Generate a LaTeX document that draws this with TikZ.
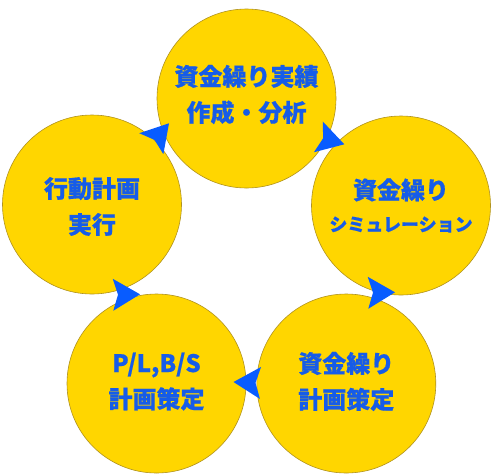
\documentclass[tikz,border=0pt]{standalone}
\usepackage{fontspec}
\newfontfamily\jpfont{Noto Sans CJK JP}[BoldFeatures={FakeBold=0.6}]
\definecolor{disk}{RGB}{255,214,0}
\definecolor{rim}{RGB}{176,146,30}
\definecolor{ink}{RGB}{22,92,232}
\definecolor{tipblue}{RGB}{8,92,255}

\begin{document}
\begin{tikzpicture}[%
    x=1pt, y=-1pt,              % pixel units, y grows downwards
    ]
% -------------------------------------------------
% Styles for the disks, their texts and the arrow heads
\tikzset{
  base/.style={draw=rim, fill=disk, circle, line width=0.6pt,
    minimum size=179pt, inner sep=0pt},
  txt/.style={text=ink, align=center, font={\jpfont\bfseries\fontsize{24}{36}\selectfont}},
  head/.style={fill=tipblue},
}
\useasboundingbox (0,0) rectangle (493,475);
% -------------------------------------------------
% Start by placing the disks

\node [base] (a) at (246.5,98.5) {};
\node [base] (b) at (401,205.5) {};
\node [base] (c) at (346.3,383.5) {};
\node [base] (d) at (156.5,383.5) {};
\node [base] (e) at (92,204.5) {};

% Texts in the disks
\node [txt] (a-t) at ([yshift=4pt]a) {資金繰り実績\\作成・分析};
\node [txt] (b-t) at (b) {資金繰り\\[-4pt]{\fontsize{18}{36}\selectfont シミュレーション}};
\node [txt] (c-t) at ([yshift=2pt]c) {資金繰り\\計画策定};
\node [txt] (d-t) at ([yshift=2pt]d) {P/L,B/S\\計画策定};
\node [txt] (e-t) at ([yshift=-2pt]e) {行動計画\\実行};

% Arrow heads between neighbouring disks (tip points)
\coordinate (ab) at (344.3,144.3);
\coordinate (bc) at (395,292.3);
\coordinate (cd) at (233.5,382);
\coordinate (de) at (140,294.3);
\coordinate (ea) at (169,123.3);

\foreach \p/\a in {ab/-16, bc/1, cd/178, de/1, ea/49}
  \fill[head, rotate around={\a:(\p)}] (\p) -- ++(-27,16) -- ++(5,-16)
    -- ++(-5,-16) -- cycle;		%tip,corner,notch,corner

% -------------------------------------------------
\end{tikzpicture}
\end{document}
